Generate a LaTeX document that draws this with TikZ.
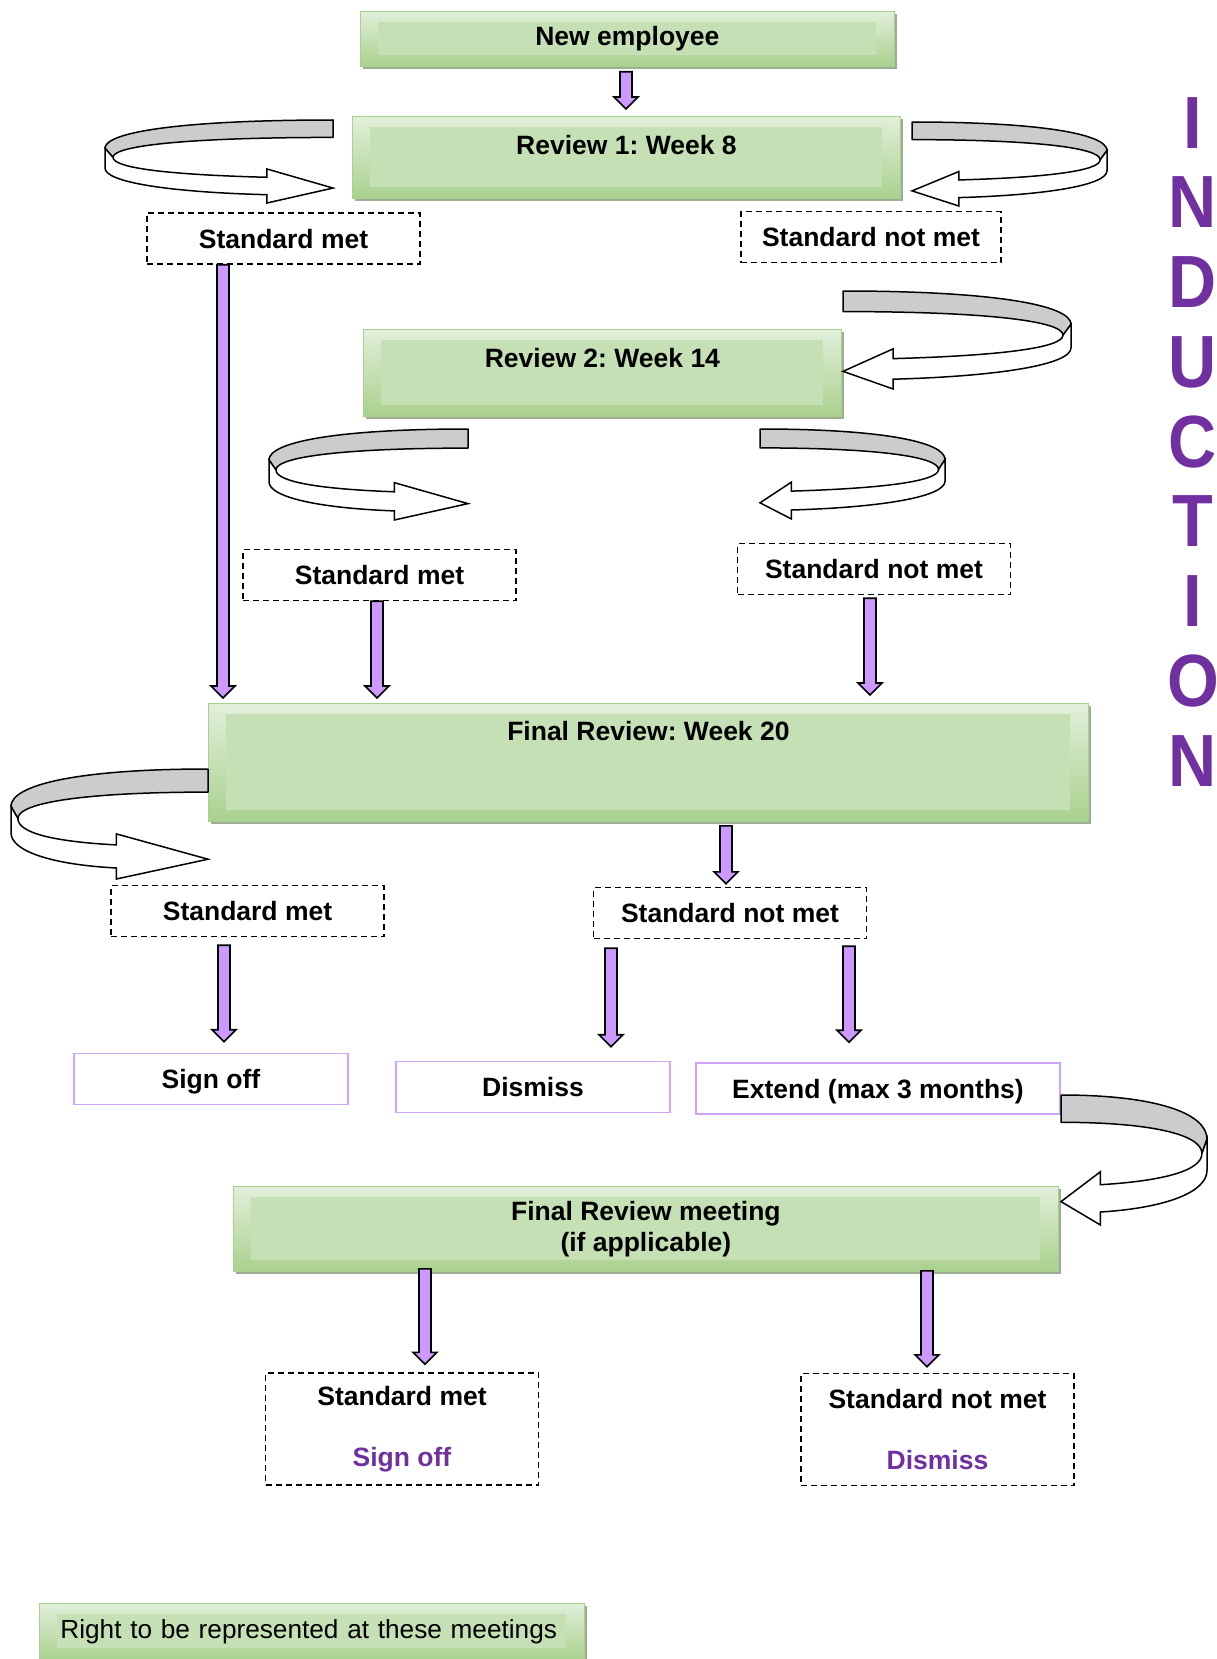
\documentclass[tikz,border=0pt]{standalone}
\usepackage{fontspec}
\setmainfont{Liberation Sans}
\frenchspacing
\usetikzlibrary{shadows,calc}
\definecolor{gin}{HTML}{C5E0B4}
\definecolor{glight}{HTML}{E2EFDA}
\definecolor{gdark}{HTML}{A9D18E}
\definecolor{gshadow}{HTML}{9EAE94}
\definecolor{pfill}{HTML}{CC99FF}
\definecolor{pline}{HTML}{CFA6F7}
\definecolor{ptext}{HTML}{7030A0}
\definecolor{band}{HTML}{CCCCCC}

\tikzset{
 bf/.style={font=\frenchspacing\bfseries\fontsize{26.5}{31}\selectfont},
 gbox/.style={bf, draw=gdark, line width=0.8pt, top color=glight, bottom color=gdark, inner sep=0pt, align=center, anchor=north west,
   drop shadow={shadow xshift=3pt, shadow yshift=-3pt, fill=gshadow, opacity=1},
   path picture={\fill[gin] ([xshift=18pt,yshift=-11pt]path picture bounding box.north west) rectangle ([xshift=-18pt,yshift=11pt]path picture bounding box.south east);}},
 dbox/.style={bf, draw, dash pattern=on 6pt off 4pt, line width=1.4pt, minimum width=273pt, minimum height=51pt, inner sep=0pt, align=center},
 oneline/.style={text height=21.5pt, text depth=2.5pt},
 pbox/.style={bf, oneline, draw=pline, line width=1.6pt, minimum height=51pt, inner sep=0pt},
 parr/.style={fill=pfill, draw=black, line width=1.6pt, line join=miter},
 bandgray/.style={fill=band, draw=black, line width=1.5pt, line join=round},
 bandwhite/.style={fill=white, draw=black, line width=1.5pt, line join=miter},
 letter/.style={font=\bfseries\fontsize{74}{80}\selectfont, text=ptext, inner sep=0pt, anchor=base}
}

\newcommand\parrow[3]{\path[parr] let \p1=#2, \p2=#3 in ({#1pt-6pt},\y1) -- ({#1pt+6pt},\y1) -- ({#1pt+6pt},\y2+12pt) -- ({#1pt+12pt},\y2+12pt) -- (#1pt,\y2) -- ({#1pt-12pt},\y2+12pt) -- ({#1pt-6pt},\y2+12pt) -- cycle;}

\newcommand\curv[5]{%
\begin{scope}[shift={(#1,#2)},xscale=#3,yscale=#4]
\path[bandgray] (1,0) .. controls (0.35,0) and (0,0.14) .. (0,0.34) -- (0.035,0.45) .. controls (0.035,0.3) and (0.4,0.21) .. (1,0.21) -- cycle;
\path[bandwhite] (0,0.34) -- (0,0.58) .. controls (0,0.75) and ({#5*0.4},0.87) .. (#5,0.9) -- (#5,1) -- (1,0.82) -- (#5,0.59) -- (#5,0.69) .. controls ({#5*0.4},0.66) and (0.035,0.58) .. (0.035,0.45) -- cycle;
\end{scope}}

\begin{document}
\begin{tikzpicture}[x=1pt,y=-1pt]
\useasboundingbox[fill=white] (0,0) rectangle (1216,1659);

% green boxes
\node[gbox, minimum width=534pt, minimum height=55pt] (ne) at (360,11) {New employee};
\node[gbox, minimum width=548pt, text height=38pt, text depth=44pt] (r1) at (352,116) {Review 1: Week 8};
\node[gbox, minimum width=478pt, text height=38pt, text depth=49pt] (r2) at (363,329) {Review 2: Week 14};
\node[gbox, minimum width=880pt, text height=37pt, text depth=81pt] (fr) at (208,703) {Final Review: Week 20};
\node[gbox, minimum width=825pt, minimum height=85pt] (frm) at (233,1186) {Final Review meeting\\(if applicable)};
\node[gbox, font=\frenchspacing\fontsize{26.2}{31}\selectfont, minimum height=56pt, inner xsep=21pt, text width=503pt, align=left] (rt) at (39,1603) {Right to be represented at these meetings};

% dashed boxes
\node[dbox, oneline] (sm1) at (283.5,238.5) {Standard met};
\node[dbox, oneline, minimum width=260pt] (snm1) at (871,237) {Standard not met};
\node[dbox, oneline] (sm2) at (379.5,575) {Standard met};
\node[dbox, oneline] (snm2) at (874,569) {Standard not met};
\node[dbox, oneline] (sm3) at (247.5,911) {Standard met};
\node[dbox, oneline] (snm3) at (730,913) {Standard not met};
\node[dbox, minimum height=112pt] (sm4) at (402,1429) {Standard met\\[30pt]\textcolor{ptext}{Sign off}};
\node[dbox, minimum height=112pt] (snm4) at (937.5,1429.5) {Standard not met\\[30pt]\textcolor{ptext}{Dismiss}};

% purple boxes
\node[pbox, minimum width=274pt] (so) at (211,1079) {Sign off};
\node[pbox, minimum width=274pt] (dis) at (533,1087) {Dismiss};
\node[pbox, minimum width=364pt] (ext) at (878,1088.5) {Extend (max 3 months)};

% INDUCTION
\foreach \l [count=\i] in {I,N,D,U,C,T,I,O,N}
  \node[letter] (ind\i) at (1193,{148+79.75*(\i-1)}) {\scalebox{0.9}[1]{\l}};

% straight arrows
\parrow{626}{([yshift=-5pt]ne.south)}{([yshift=7pt]r1.north)}
\parrow{223}{(sm1.south)}{([yshift=5pt]fr.north)}
\parrow{377}{(sm2.south)}{([yshift=5pt]fr.north)}
\parrow{870}{([yshift=-3pt]snm2.south)}{([yshift=8pt]fr.north)}
\parrow{726}{([yshift=-4pt]fr.south)}{([yshift=3pt]snm3.north)}
\parrow{224}{([yshift=-8pt]sm3.south)}{([yshift=11pt]so.north)}
\parrow{611}{([yshift=-9pt]snm3.south)}{([yshift=14pt]dis.north)}
\parrow{849}{([yshift=-7pt]snm3.south)}{([yshift=20pt]ext.north)}
\parrow{425}{([yshift=3pt]frm.south)}{([yshift=8pt]sm4.north)}
\parrow{927}{([yshift=1pt]frm.south)}{([yshift=6pt]snm4.north)}

% curved arrows
\curv{105}{120}{228}{83}{0.71}
\curv{1107}{122}{-195}{84}{0.76}
\curv{1071}{291}{-228}{98}{0.78}
\curv{269}{429}{199}{91}{0.63}
\curv{945}{429}{-185}{90}{0.83}
\curv{11}{769}{197}{110}{0.535}
\curv{1207}{1095}{-146}{130}{0.73}
\end{tikzpicture}
\end{document}
